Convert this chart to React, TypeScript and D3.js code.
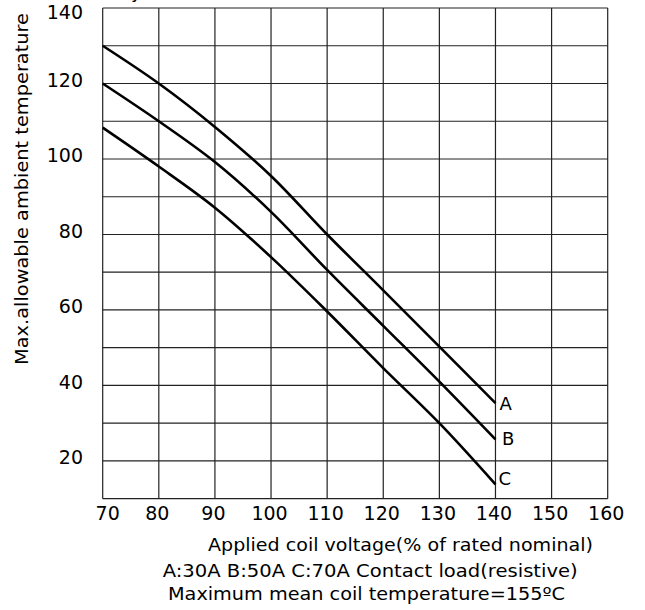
import React from "react";
import * as d3 from "d3";

const voltages = [70, 80, 90, 100, 110, 120, 130, 140];
const seriesA = [130, 120, 108.5, 95.5, 80, 65.2, 50.3, 35.3];
const seriesB = [120, 110, 99.2, 86, 70.6, 55.8, 41, 25.7];
const seriesC = [108.3, 98, 87.1, 74, 59.6, 44.6, 30, 13.8];
const seriesNames = ["A", "B", "C"];
const xTicks = [70, 80, 90, 100, 110, 120, 130, 140, 150, 160];
const yGrid = [10, 20, 30, 40, 50, 60, 70, 80, 90, 100, 110, 120, 130, 140];
const yLabels = [20, 40, 60, 80, 100, 120, 140];

const FONT = "'DejaVu Sans', 'Noto Sans', sans-serif";

export default function App() {
  const x = d3.scaleLinear().domain([70, 160]).range([102.7, 607.7]);
  const y = d3.scaleLinear().domain([10, 140]).range([498.7, 8]);
  const line = d3
    .line<number>()
    .x((_, i) => x(voltages[i]))
    .y((d) => y(d))
    .curve(d3.curveCatmullRom.alpha(0.5));
  const all = [seriesA, seriesB, seriesC];
  const labelBaselines = [410, 445, 485];
  const labelOffsets = [0, 2.5, -1];

  return (
    <svg
      width={645}
      height={610}
      style={{ position: "absolute", left: 0, top: 0, background: "#fff" }}
      fontFamily={FONT}
    >
      <rect width={645} height={610} fill="#fff" />
      <text x={131} y={-2} fontSize={18} fill="#000">y</text>
      {xTicks.map((t) => (
        <line
          key={"vx" + t}
          x1={x(t)}
          x2={x(t)}
          y1={y(140)}
          y2={y(10)}
          stroke="#222"
          strokeWidth={1.2}
        />
      ))}
      {yGrid.map((t) => (
        <line
          key={"hy" + t}
          x1={x(70)}
          x2={x(160)}
          y1={y(t)}
          y2={y(t)}
          stroke="#222"
          strokeWidth={1.2}
        />
      ))}
      {all.map((s, i) => (
        <path
          key={"s" + i}
          d={line(s) || ""}
          fill="none"
          stroke="#000"
          strokeWidth={2.6}
        />
      ))}
      {all.map((s, i) => (
        <text
          key={"l" + i}
          x={x(140) + 4 + labelOffsets[i]}
          y={labelBaselines[i]}
          fontSize={18}
          fill="#000"
        >
          {seriesNames[i]}
        </text>
      ))}
      {xTicks.map((t) => (
        <text
          key={"xt" + t}
          x={x(t) + (t === 70 ? 5 : -1.5)}
          y={519.5}
          fontSize={19}
          textAnchor="middle"
          fill="#000"
        >
          {t}
        </text>
      ))}
      {yLabels.map((t) => (
        <text
          key={"yt" + t}
          x={83}
          y={t === 140 ? 19 : y(t) + 3.5}
          fontSize={19}
          textAnchor="end"
          fill="#000"
        >
          {t}
        </text>
      ))}
      <text
        transform="translate(28,189) rotate(-90)"
        fontSize={17.5}
        textAnchor="middle"
        textLength={352}
        lengthAdjust="spacingAndGlyphs"
        fill="#000"
      >
        Max.allowable ambient temperature
      </text>
      <text
        x={400.5}
        y={551}
        fontSize={17.5}
        textAnchor="middle"
        textLength={385}
        lengthAdjust="spacingAndGlyphs"
        fill="#000"
      >
        Applied coil voltage(% of rated nominal)
      </text>
      <text
        x={370.2}
        y={577}
        fontSize={17.5}
        textAnchor="middle"
        textLength={415}
        lengthAdjust="spacingAndGlyphs"
        fill="#000"
      >
        A:30A B:50A C:70A  Contact load(resistive)
      </text>
      <text
        x={366.5}
        y={600}
        fontSize={17.5}
        textAnchor="middle"
        textLength={397}
        lengthAdjust="spacingAndGlyphs"
        fill="#000"
      >
        Maximum mean coil temperature=155ºC
      </text>
    </svg>
  );
}
